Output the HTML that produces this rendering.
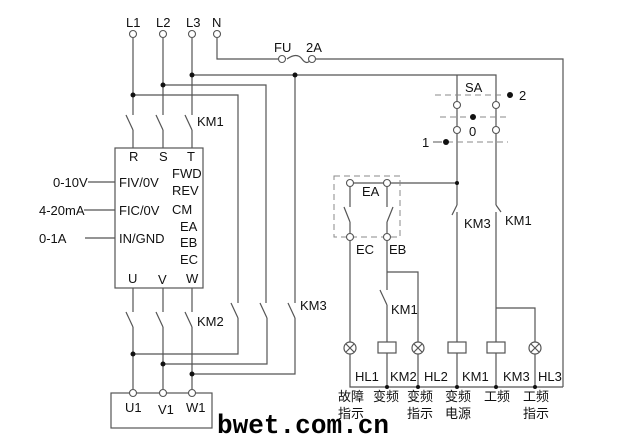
<!DOCTYPE html>
<html><head><meta charset="utf-8"><style>
html,body{margin:0;padding:0;background:#fff;}
svg{display:block;}
text{font-family:"Liberation Sans","Noto Sans CJK SC",sans-serif;fill:#111;}
.c{font-family:"Liberation Sans","Noto Sans CJK SC",sans-serif;font-size:13px;}
</style></head><body>
<svg width="620" height="444" viewBox="0 0 620 444" xmlns="http://www.w3.org/2000/svg">
<g stroke="#555" stroke-width="1.2" fill="none">
<path d="M133 38V115M163 38V115M192 38V115"/>
<path d="M126 115L133 130M156 115L163 130M185 115L192 130"/>
<path d="M133 130V148M163 130V148M192 130V148"/>
<path d="M217 38V59H278M316 59H563V387"/>
<path d="M287 59Q297 52 302 59Q307 66 311 59"/>
<path d="M192 75H496V103M457 75V103"/>
<path d="M163 85H266V303M133 95H238V303M295 75V303"/>
<path d="M231 303L238 318M260 303L267 318M288 303L295 318"/>
<path d="M238 318V354H133M267 318V364H163M295 318V374H192"/>
<rect x="115" y="148" width="88" height="140"/>
<path d="M88 182H115M84 210H115M85 238H115"/>
<path d="M133 288V312M163 288V312M192 288V312"/>
<path d="M126 312L133 327M156 312L163 327M185 312L192 327"/>
<path d="M133 327V389M163 327V389M192 327V389"/>
<rect x="111" y="393" width="101" height="35"/>
<path d="M457 107V128M496 107V128"/>
<path d="M457 133V205M496 133V205"/>
<path d="M457 183H390M384 183H353"/>
<path d="M350 186V207M344 207L350 222M350 222V234M387 186V207M393 207L387 222M387 222V234"/>
<path d="M457 205L452 215M457 212V348M496 205L501 212M496 212V342"/>
<path d="M350 240V343M387 240V290M380 290L387 305M387 305V342M387 272H418V343"/>
<path d="M496 308H535V343"/>
<path d="M350 353V387H563M387 353V387M418 353V387M457 353V387M496 353V387M535 353V387"/>
<rect x="378" y="342" width="18" height="11" fill="#fff"/>
<rect x="448" y="342" width="18" height="11" fill="#fff"/>
<rect x="487" y="342" width="18" height="11" fill="#fff"/>
</g>
<g stroke="#888" stroke-width="1" fill="none" stroke-dasharray="6,4">
<rect x="334" y="176" width="66" height="61"/>
<path d="M435 95H505M440 117H508M447 142H508"/>
</g>
<path d="M433 142H442" stroke="#555"/>
<g stroke="#555" stroke-width="1.2" fill="#fff">
<circle cx="350" cy="348" r="6"/><circle cx="418" cy="348" r="6"/><circle cx="535" cy="348" r="6"/>
<path d="M346 344L354 352M354 344L346 352M414 344L422 352M422 344L414 352M531 344L539 352M539 344L531 352"/>
</g>
<g stroke="#555" stroke-width="1.1" fill="#fff">
<circle cx="133" cy="34" r="3.5"/><circle cx="163" cy="34" r="3.5"/><circle cx="192" cy="34" r="3.5"/><circle cx="217" cy="34" r="3.5"/>
<circle cx="282" cy="59" r="3.5"/><circle cx="312" cy="59" r="3.5"/>
<circle cx="457" cy="105" r="3.5"/><circle cx="496" cy="105" r="3.5"/>
<circle cx="457" cy="130" r="3.5"/><circle cx="496" cy="130" r="3.5"/>
<circle cx="350" cy="183" r="3.5"/><circle cx="387" cy="183" r="3.5"/>
<circle cx="350" cy="237" r="3.5"/><circle cx="387" cy="237" r="3.5"/>
<circle cx="133" cy="393" r="3.5"/><circle cx="163" cy="393" r="3.5"/><circle cx="192" cy="393" r="3.5"/>
</g>
<g fill="#111">
<circle cx="192" cy="75" r="2.5"/><circle cx="163" cy="85" r="2.5"/><circle cx="133" cy="95" r="2.5"/><circle cx="295" cy="75" r="2.5"/>
<circle cx="133" cy="354" r="2.5"/><circle cx="163" cy="364" r="2.5"/><circle cx="192" cy="374" r="2.5"/>
<circle cx="510" cy="95" r="3"/><circle cx="473" cy="117" r="3"/><circle cx="446" cy="142" r="3"/>
<circle cx="457" cy="183" r="2"/>
<circle cx="387" cy="387" r="2"/><circle cx="418" cy="387" r="2"/><circle cx="457" cy="387" r="2"/><circle cx="496" cy="387" r="2"/><circle cx="535" cy="387" r="2"/>
</g>
<g class="c" font-size="13">
<text x="126" y="27" class="c">L1</text><text x="156" y="27" class="c">L2</text><text x="186" y="27" class="c">L3</text><text x="212" y="27" class="c">N</text>
<text x="274" y="52" class="c">FU</text><text x="306" y="52" class="c">2A</text>
<text x="197" y="126" class="c">KM1</text>
<text x="129" y="161" class="c">R</text><text x="159" y="161" class="c">S</text><text x="187" y="161" class="c">T</text>
<text x="119" y="187" class="c">FIV/0V</text><text x="119" y="215" class="c">FIC/0V</text><text x="119" y="243" class="c">IN/GND</text>
<text x="172" y="178" class="c">FWD</text><text x="172" y="195" class="c">REV</text><text x="172" y="214" class="c">CM</text>
<text x="180" y="231" class="c">EA</text><text x="180" y="247" class="c">EB</text><text x="180" y="264" class="c">EC</text>
<text x="128" y="283" class="c">U</text><text x="158" y="284" class="c">V</text><text x="186" y="283" class="c">W</text>
<text x="53" y="187" class="c">0-10V</text><text x="39" y="215" class="c">4-20mA</text><text x="39" y="243" class="c">0-1A</text>
<text x="197" y="326" class="c">KM2</text><text x="300" y="310" class="c">KM3</text>
<text x="125" y="412" class="c">U1</text><text x="158" y="414" class="c">V1</text><text x="186" y="412" class="c">W1</text>
<text x="465" y="92" class="c">SA</text><text x="519" y="100" class="c">2</text><text x="469" y="136" class="c">0</text><text x="422" y="147" class="c">1</text>
<text x="362" y="196" class="c">EA</text><text x="356" y="254" class="c">EC</text><text x="389" y="254" class="c">EB</text>
<text x="464" y="228" class="c">KM3</text><text x="505" y="225" class="c">KM1</text>
<text x="391" y="314" class="c">KM1</text>
<text x="355" y="381" class="c">HL1</text><text x="390" y="381" class="c">KM2</text><text x="424" y="381" class="c">HL2</text>
<text x="462" y="381" class="c">KM1</text><text x="503" y="381" class="c">KM3</text><text x="538" y="381" class="c">HL3</text>
<text x="338" y="401" class="c">故障</text><text x="338" y="418" class="c">指示</text>
<text x="373" y="401" class="c">变频</text>
<text x="407" y="401" class="c">变频</text><text x="407" y="418" class="c">指示</text>
<text x="445" y="401" class="c">变频</text><text x="445" y="418" class="c">电源</text>
<text x="484" y="401" class="c">工频</text>
<text x="523" y="401" class="c">工频</text><text x="523" y="418" class="c">指示</text>
</g>
<text x="217" y="433" textLength="172" lengthAdjust="spacingAndGlyphs" style="font-family:'Liberation Mono',monospace;font-size:27px;font-weight:bold;fill:#000">bwet.com.cn</text>
</svg>
</body></html>
